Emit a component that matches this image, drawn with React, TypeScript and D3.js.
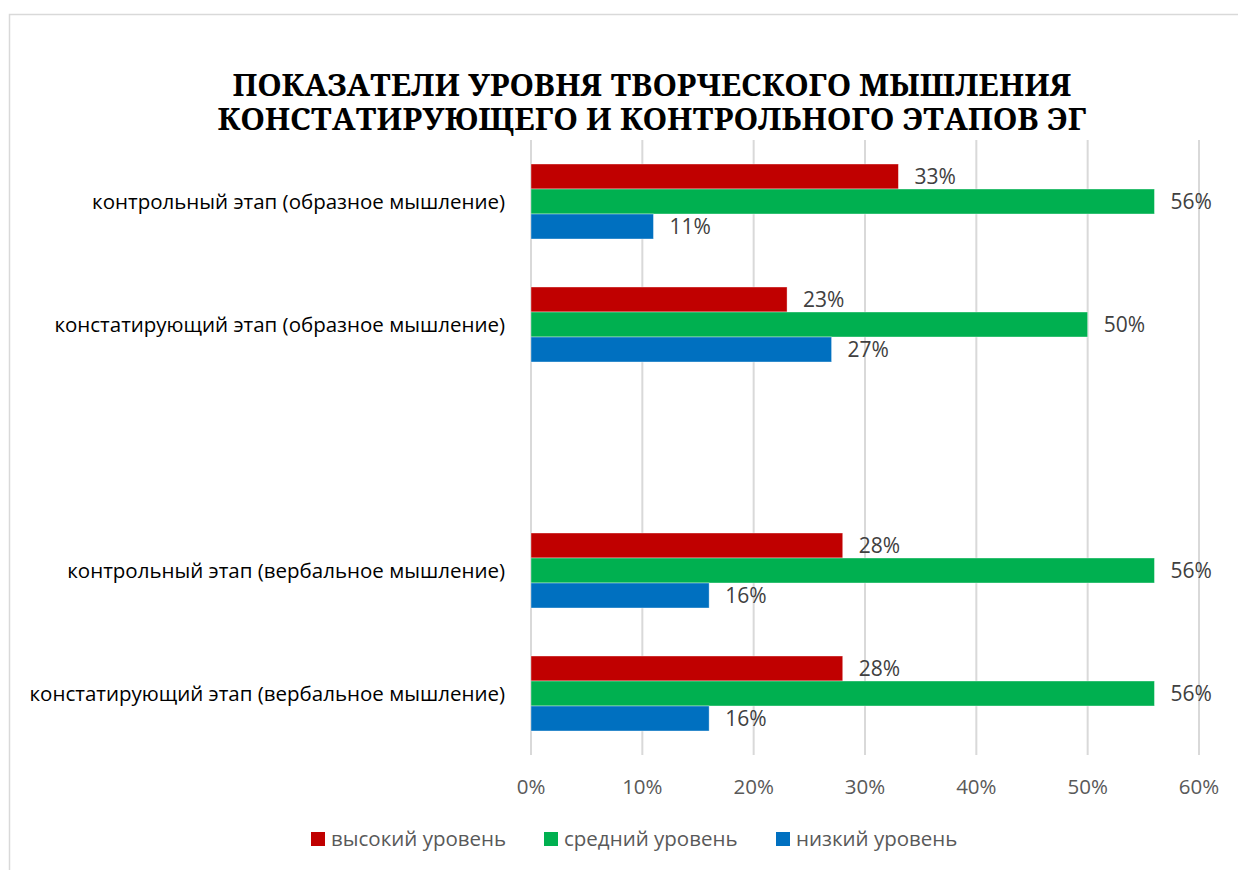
import React from "react";
import * as d3 from "d3";

const categories = [
  "контрольный этап (образное мышление)",
  "констатирующий этап (образное мышление)",
  "",
  "контрольный этап (вербальное мышление)",
  "констатирующий этап (вербальное мышление)",
];
const seriesNames = ["высокий уровень", "средний уровень", "низкий уровень"];
const seriesColors = ["#C00000", "#00B050", "#0070C0"];
const high = [33, 23, null, 28, 28];
const mid = [56, 50, null, 56, 56];
const low = [11, 27, null, 16, 16];
const xTicks = [0, 10, 20, 30, 40, 50, 60];
const titleLines = [
  "ПОКАЗАТЕЛИ УРОВНЯ ТВОРЧЕСКОГО МЫШЛЕНИЯ",
  "КОНСТАТИРУЮЩЕГО И КОНТРОЛЬНОГО ЭТАПОВ ЭГ",
];

const W = 1238;
const H = 870;
const font = "'Open Sans', sans-serif";
const serif = "'Noto Serif', 'DejaVu Serif', serif";

export default function App() {
  const x = d3.scaleLinear().domain([0, 60]).range([531, 1199]);
  const y = d3.scaleBand<number>().domain(d3.range(categories.length)).range([140, 755]).paddingInner(0).paddingOuter(0);
  const series = [high, mid, low];
  const barH = 25;
  const bandC = (i: number) => (y(i) as number) + y.bandwidth() / 2;
  const titleW = [839, 869];
  const legendX = [311, 544, 776];

  return (
    <svg width={W} height={H} style={{ position: "absolute", left: 0, top: 0, background: "#fff" }}>
      <rect x={9.5} y={14.5} width={1240} height={870} fill="#fff" stroke="#d9d9d9" strokeWidth={1.5} />
      {titleLines.map((t, i) => (
        <text
          key={i}
          x={652}
          y={96 + i * 34}
          textAnchor="middle"
          textLength={titleW[i]}
          lengthAdjust="spacingAndGlyphs"
          style={{ fontFamily: serif, fontWeight: 700, fontSize: 30 }}
          fill="#000"
        >
          {t}
        </text>
      ))}
      {xTicks.map((t) => (
        <g key={t}>
          <line x1={x(t)} x2={x(t)} y1={140} y2={755} stroke="#d9d9d9" strokeWidth={2} />
          <text x={x(t)} y={794} textAnchor="middle" style={{ fontFamily: font, fontSize: 20.5 }} fill="#595959">
            {t}%
          </text>
        </g>
      ))}
      {categories.map((c, i) => (
        <text key={i} x={505} y={bandC(i) + 7} textAnchor="end" style={{ fontFamily: font, fontSize: 20.5 }} fill="#000">
          {c}
        </text>
      ))}
      {series.map((s, si) =>
        s.map((v, i) => {
          if (v == null) return null;
          const top = bandC(i) - 1.5 * barH + si * barH;
          return (
            <g key={si + "-" + i}>
              <rect x={x(0)} y={top} width={x(v) - x(0)} height={barH} fill={seriesColors[si]} stroke="#fff" strokeOpacity={0.5} strokeWidth={0.75} />
              <text x={x(v) + 16} y={top + barH / 2 + 7} style={{ fontFamily: font, fontSize: 21 }} fill="#404040">
                {v}%
              </text>
            </g>
          );
        })
      )}
      {seriesNames.map((n, i) => (
        <g key={n}>
          <rect x={legendX[i]} y={832} width={14} height={14} fill={seriesColors[i]} />
          <text x={legendX[i] + 20} y={846} style={{ fontFamily: font, fontSize: 20.5 }} fill="#595959">
            {n}
          </text>
        </g>
      ))}
    </svg>
  );
}
